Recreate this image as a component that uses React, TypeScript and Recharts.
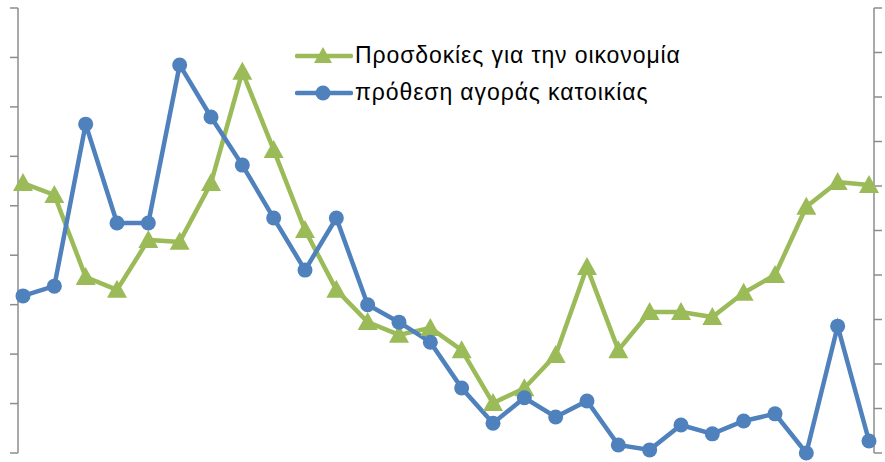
import React from 'react';
import { LineChart, Line, XAxis, YAxis } from 'recharts';

// Series colours (Office palette)
const GREEN = '#9BBB59';
const BLUE = '#4F81BD';
const AXIS = '#8C8C8C';

// 28 periods, no visible category labels in the picture
const periods: string[] = [
    'p1', 'p2', 'p3', 'p4', 'p5', 'p6', 'p7', 'p8', 'p9', 'p10',
    'p11', 'p12', 'p13', 'p14', 'p15', 'p16', 'p17', 'p18', 'p19', 'p20',
    'p21', 'p22', 'p23', 'p24', 'p25', 'p26', 'p27', 'p28'
];

// Left axis series
const economyExpectations: number[] = [
    54.6, 52.2, 35.6, 33.0, 43.1, 42.7, 54.6, 77.1, 61.3, 45.1,
    33.0, 26.5, 23.9, 25.3, 20.8, 10.1, 13.1, 19.8, 37.6, 20.8,
    28.5, 28.5, 27.5, 32.4, 36.0, 49.8, 54.8, 54.2
];

// Right axis series
const housingIntent: number[] = [
    35.3, 37.5, 73.9, 51.7, 51.7, 87.2, 75.5, 64.7, 52.8, 41.1,
    52.8, 33.3, 29.4, 24.9, 14.6, 6.7, 12.4, 8.1, 11.7, 1.8,
    0.7, 6.3, 4.3, 7.2, 8.8, 0.0, 28.5, 2.7
];

const leftTicks: number[] = [0, 10, 20, 30, 40, 50, 60, 70, 80, 90];
const rightTicks: number[] = [0, 10, 20, 30, 40, 50, 60, 70, 80, 90, 100];

const LABEL_ECONOMY = 'Προσδοκίες για την οικονομία';
const LABEL_HOUSING = 'πρόθεση αγοράς κατοικίας';

const data = periods.map((p, i) => ({
    period: p,
    economy: economyExpectations[i],
    housing: housingIntent[i]
}));

const Triangle = (props: any) => {
    const { cx, cy } = props;
    if (cx == null || cy == null) return null;
    const w = 10;
    const h = 18;
    return (
        <path
            d={`M${cx},${cy - h / 2 - 1} L${cx + w},${cy + h / 2 - 1} L${cx - w},${cy + h / 2 - 1} Z`}
            fill={GREEN}
            stroke="none"
        />
    );
};

// legend drawn as an overlay so it doesn't eat plot space
const LegendBox = () => {
    const row = (color: string, label: string, marker: 'tri' | 'dot') => (
        <div style={{ display: 'flex', alignItems: 'center', height: 37 }}>
            <svg width={58} height={20}>
                <line x1={2} y1={10} x2={56} y2={10} stroke={color} strokeWidth={4.5} strokeLinecap="round" />
                {marker === 'tri' ? (
                    <path d="M28,1 L37,17 L19,17 Z" fill={color} />
                ) : (
                    <circle cx={28} cy={10} r={7.5} fill={color} />
                )}
            </svg>
            <span style={{ marginLeft: 2, fontSize: 23, letterSpacing: 0.9, color: '#000', whiteSpace: 'nowrap' }}>
                {label}
            </span>
        </div>
    );
    return (
        <div
            style={{
                position: 'absolute',
                left: 295,
                top: 37,
                fontFamily: '"Liberation Sans", Arial, sans-serif'
            }}
        >
            {row(GREEN, LABEL_ECONOMY, 'tri')}
            {row(BLUE, LABEL_HOUSING, 'dot')}
        </div>
    );
};

export default function App() {
    return (
        <div style={{ position: 'fixed', left: 0, top: 0, width: 885, height: 462, background: '#fff' }}>
            <LineChart
                width={885}
                height={462}
                data={data}
                margin={{ top: 8, right: 0, bottom: 9, left: 0 }}
            >
                <XAxis dataKey="period" hide padding={{ left: 5, right: 5 }} />
                <YAxis
                    yAxisId="left"
                    orientation="left"
                    width={18}
                    domain={[0, 90]}
                    ticks={leftTicks}
                    interval={0}
                    tick={() => null}
                    tickSize={8}
                    axisLine={{ stroke: AXIS, strokeWidth: 1.5 }}
                    tickLine={{ stroke: AXIS, strokeWidth: 1.5 }}
                />
                <YAxis
                    yAxisId="right"
                    orientation="right"
                    width={11}
                    domain={[0, 100]}
                    ticks={rightTicks}
                    interval={0}
                    tick={() => null}
                    tickSize={8}
                    axisLine={{ stroke: AXIS, strokeWidth: 1.5 }}
                    tickLine={{ stroke: AXIS, strokeWidth: 1.5 }}
                />
                <Line
                    yAxisId="left"
                    type="linear"
                    dataKey="economy"
                    name={LABEL_ECONOMY}
                    stroke={GREEN}
                    strokeWidth={4.5}
                    dot={<Triangle />}
                    activeDot={false}
                    isAnimationActive={false}
                />
                <Line
                    yAxisId="right"
                    type="linear"
                    dataKey="housing"
                    name={LABEL_HOUSING}
                    stroke={BLUE}
                    strokeWidth={4.5}
                    dot={{ r: 7.5, fill: BLUE, stroke: 'none' }}
                    activeDot={false}
                    isAnimationActive={false}
                />
            </LineChart>
            <LegendBox />
        </div>
    );
}
